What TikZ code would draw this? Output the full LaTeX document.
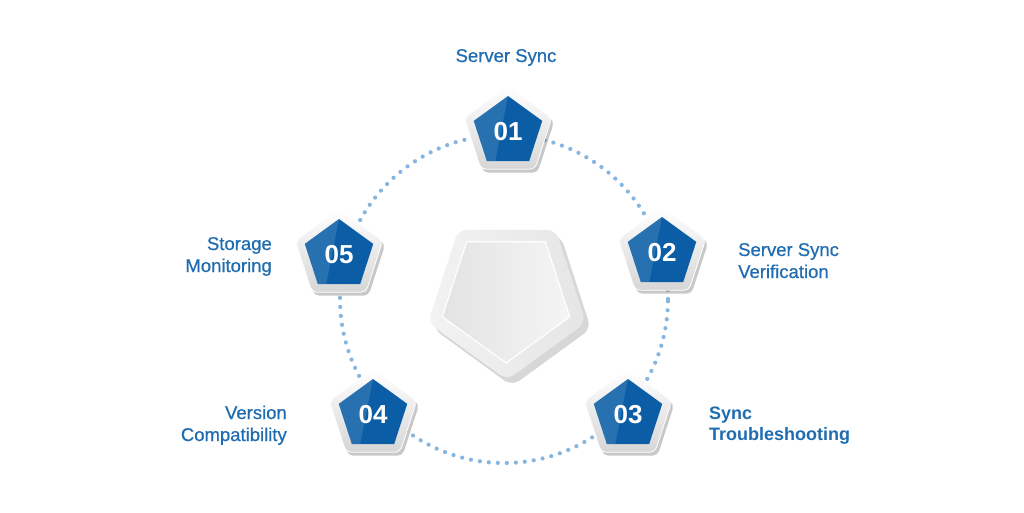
\documentclass[tikz,border=0pt]{standalone}
\usepackage{fontspec}
\setmainfont{Liberation Sans}
\newfontfamily\semib{Liberation Sans}[FakeBold=0.6]
\usetikzlibrary{shapes.geometric,shadows,calc}
\definecolor{txt}{HTML}{1F6CB0}
\definecolor{pblue}{HTML}{0B5EA6}
\definecolor{dotc}{HTML}{86B6E0}
\begin{document}
\begin{tikzpicture}[x=1pt,y=-1pt,
  rim/.style={regular polygon, regular polygon sides=5, minimum size=92pt, inner sep=0pt,
    rounded corners=5pt, top color=white, bottom color=black!16, draw=white, line width=0.8pt,
    drop shadow={shadow xshift=2.5pt, shadow yshift=-3.5pt, opacity=0.3, fill=black!70}},
  core/.style={regular polygon, regular polygon sides=5, minimum size=72pt, inner sep=0pt, fill=pblue},
  num/.style={text=white, inner sep=0pt, font=\bfseries\fontsize{26}{26}\selectfont},
  lbl/.style={text=txt, inner sep=0pt, font=\semib\fontsize{18.5}{22}\selectfont},
  hl/.style={white, opacity=0.12},
  bigrim/.style={regular polygon, regular polygon sides=5, shape border rotate=180, minimum size=166pt,
    inner sep=0pt, rounded corners=9pt, left color=black!5, right color=black!10,
    drop shadow={shadow xshift=5pt, shadow yshift=-6pt, opacity=0.22, fill=black!70}},
  biginner/.style={regular polygon, regular polygon sides=5, shape border rotate=180, minimum size=134pt,
    inner sep=0pt, left color=black!11, right color=black!4, draw=white, line width=1.2pt},
]
\useasboundingbox (0,0) rectangle (1024,512);
\fill[white] (0,0) rectangle (1024,512);

% dotted ring
\coordinate (ring) at (504,299);
\draw[dotc, line width=4.2pt, line cap=round, dash pattern=on 0pt off 9.02pt] (ring) circle[radius=164pt];

% central pentagon
\node[bigrim] (c0) at (507,297) {};
\node[biginner] (c0i) at (506,296) {};

% step pentagons
\foreach \i/\x/\y in {1/508/132, 2/662/253, 3/628/415, 4/373/415, 5/339/255}{
  \node[rim] (r\i) at (\x,\y) {};
  \node[core] (c\i) at (\x,\y) {};
  \fill[hl] (c\i.corner 1) -- (c\i.corner 2) -- (c\i.corner 3) -- ($(c\i.corner 3)!0.2!(c\i.corner 4)$) -- cycle;
  \node[num] (n\i) at (\x,\y) {0\i};
}

% labels
\node[lbl, anchor=base] (l1) at (506,62) {Server Sync};
\node[lbl, anchor=base west, align=left] (l2) at (738,278) {Server Sync\\Verification};
\node[lbl, anchor=base west, align=left, font=\bfseries\fontsize{18}{21}\selectfont] (l3) at (709,440) {Sync\\Troubleshooting};
\node[lbl, anchor=base east, align=right] (l4) at (287,441) {Version\\Compatibility};
\node[lbl, anchor=base east, align=right] (l5) at (272,272) {Storage\\Monitoring};
\end{tikzpicture}
\end{document}
